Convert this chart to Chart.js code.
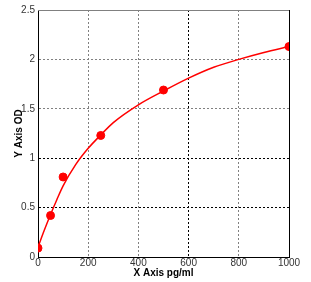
<!DOCTYPE html>
<html lang="en">
<head>
<meta charset="UTF-8">
<title>Standard Curve</title>
<script src="https://cdn.jsdelivr.net/npm/chart.js"></script>
<style>
  body { margin: 0; background: #fff; }
</style>
</head>
<body>
<canvas id="chart" width="311" height="282"></canvas>
<script>
// standard points
const concX = [0, 50, 100, 250, 500, 1000];
const odY = [0.09, 0.42, 0.81, 1.23, 1.69, 2.13];

// fitted curve
const fitX = [0, 25, 50, 75, 100, 150, 200, 250, 300, 400, 500, 600, 700, 800, 900, 1000];
const fitY = [0.1, 0.27, 0.43, 0.58, 0.72, 0.935, 1.1, 1.235, 1.36, 1.54, 1.68, 1.81, 1.92, 2.0, 2.07, 2.13];

const xTicks = [0, 200, 400, 600, 800, 1000];
const yTicks = [0, 0.5, 1, 1.5, 2, 2.5];

const blackX = [600];
const blackY = [0.5, 1];

const pts = (xs, ys) => xs.map((x, i) => ({ x: x, y: ys[i] }));

// solid frame on top (grey) and right (black)
const framePlugin = {
  id: 'frame',
  afterDatasetsDraw(chart) {
    const a = chart.chartArea;
    const ctx = chart.ctx;
    ctx.save();
    ctx.lineWidth = 1;
    ctx.strokeStyle = '#808080';
    ctx.beginPath();
    ctx.moveTo(a.left, Math.round(a.top) + 0.5);
    ctx.lineTo(a.right, Math.round(a.top) + 0.5);
    ctx.stroke();
    ctx.strokeStyle = '#000';
    ctx.beginPath();
    ctx.moveTo(Math.round(a.right) + 0.5, a.top);
    ctx.lineTo(Math.round(a.right) + 0.5, a.bottom);
    ctx.stroke();
    ctx.restore();
  }
};

const tickFont = { family: 'Liberation Sans', size: 10 };
const titleFont = { family: 'Liberation Sans', size: 10, weight: 'bold' };

new Chart(document.getElementById('chart'), {
  type: 'scatter',
  data: {
    datasets: [{
      label: 'Standard',
      data: pts(concX, odY),
      backgroundColor: '#ff0000',
      borderColor: '#ff0000',
      pointRadius: 4,
      pointHoverRadius: 4,
      showLine: false,
      order: 0
    }, {
      label: 'Fit',
      data: pts(fitX, fitY),
      borderColor: '#ff0000',
      borderWidth: 1.5,
      pointRadius: 0,
      showLine: true,
      cubicInterpolationMode: 'monotone',
      order: 1
    }]
  },
  options: {
    responsive: false,
    animation: false,
    layout: { padding: { top: 10, right: 22, left: 0, bottom: 0 } },
    plugins: { legend: { display: false }, tooltip: { enabled: false } },
    scales: {
      x: {
        type: 'linear',
        min: 0,
        max: 1000,
        afterBuildTicks: s => { s.ticks = xTicks.map(v => ({ value: v })); },
        afterFit: s => { s.height = 25; },
        ticks: {
          callback: v => v,
          color: '#333',
          font: tickFont,
          padding: 0,
          maxRotation: 0
        },
        grid: {
          drawTicks: false,
          color: c => {
            const v = c.tick ? c.tick.value : null;
            if (v === 0 || v === 1000) return 'rgba(0,0,0,0)';
            return blackX.includes(v) ? '#000' : '#808080';
          },
          lineWidth: 1
        },
        border: { color: '#000', width: 1, dash: [2, 2] },
        title: {
          display: true,
          text: 'X Axis pg/ml',
          color: '#000',
          font: titleFont,
          padding: { top: 0, bottom: 3 }
        }
      },
      y: {
        min: 0,
        max: 2.5,
        afterBuildTicks: s => { s.ticks = yTicks.map(v => ({ value: v })); },
        afterFit: s => { s.width = 38; },
        ticks: {
          callback: v => v,
          color: '#333',
          font: tickFont,
          padding: 3
        },
        grid: {
          drawTicks: false,
          color: c => {
            const v = c.tick ? c.tick.value : null;
            if (v === 0 || v === 2.5) return 'rgba(0,0,0,0)';
            return blackY.includes(v) ? '#000' : '#808080';
          },
          lineWidth: 1
        },
        border: { color: '#000', width: 1, dash: [2, 2] },
        title: {
          display: true,
          text: 'Y Axis OD',
          color: '#000',
          font: titleFont,
          padding: { top: 13, bottom: 0 }
        }
      }
    }
  },
  plugins: [framePlugin]
});
</script>
</body>
</html>
